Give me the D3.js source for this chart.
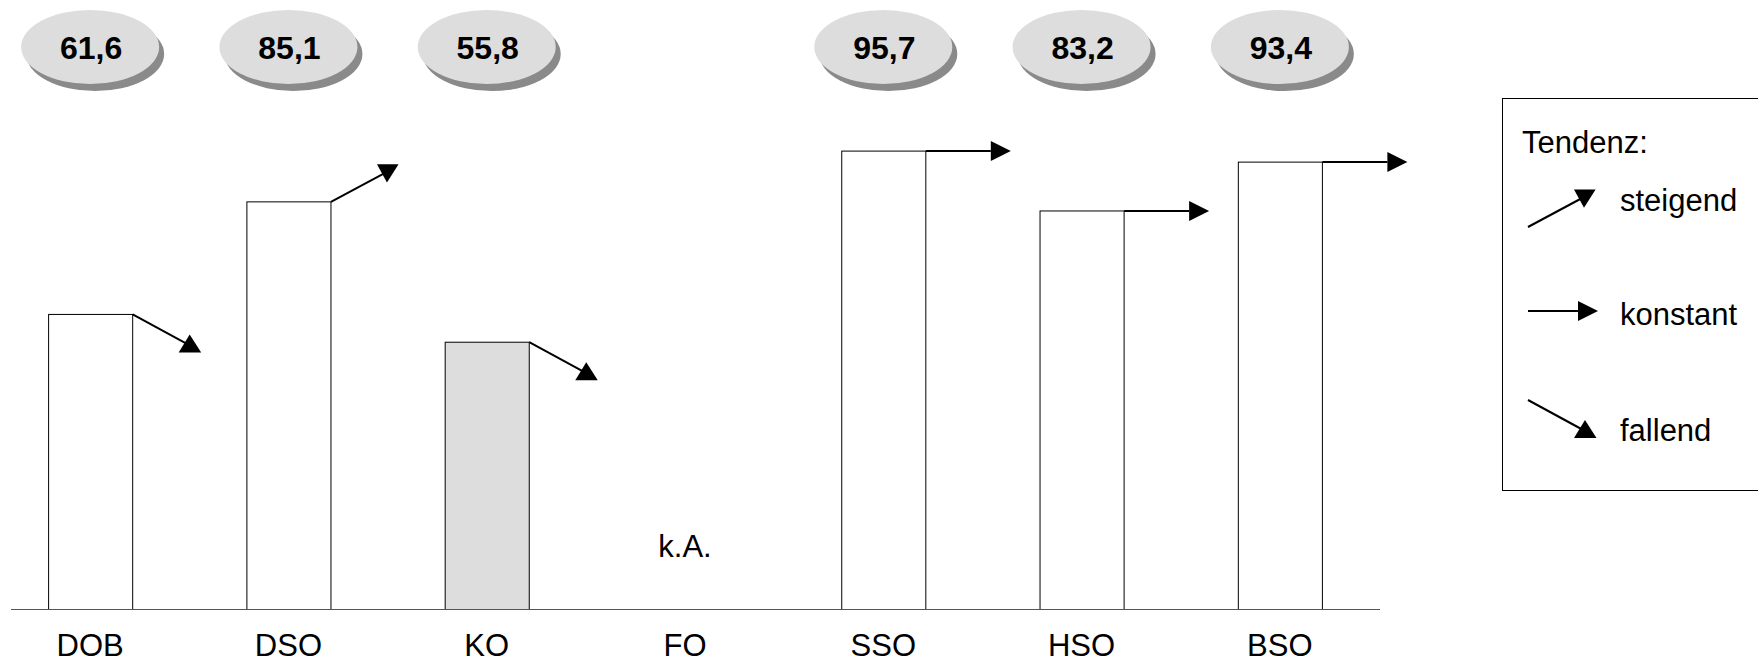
<!DOCTYPE html>
<html>
<head>
<meta charset="utf-8">
<script src="https://cdn.jsdelivr.net/npm/d3@7"></script>
<style>
  html, body { margin: 0; padding: 0; background: #fff; }
  svg { display: block; font-family: Arial, "Liberation Sans", sans-serif; }
</style>
</head>
<body>
<svg id="chart" width="1758" height="664"></svg>
<script>
// Werte je Orchester (FO: keine Angabe)
const categories = ["DOB", "DSO", "KO", "FO", "SSO", "HSO", "BSO"];
const values = [61.6, 85.1, 55.8, null, 95.7, 83.2, 93.4];
const trends = ["fallend", "steigend", "fallend", null, "konstant", "konstant", "konstant"];
const highlighted = ["KO"];
const missingText = "k.A.";
const legendTitle = "Tendenz:";
const legendItems = ["steigend", "konstant", "fallend"];

const de = d3.formatLocale({ decimal: ",", thousands: ".", grouping: [3], currency: ["", " €"] });
const fmt = de.format(".1f");

const svg = d3.select("#chart");

const x = d3.scaleBand()
  .domain(categories)
  .range([-9, 1379])
  .paddingInner(0.576)
  .paddingOuter(0.288);

const baseY = 609;
const y = d3.scaleLinear().domain([0, 100]).range([baseY, 130]);

// Pfeilformen: Linie ab Startpunkt, Spitze als Dreieck
function drawArrow(g, type, sx, sy, flatLen) {
  let line, tri;
  if (type === "steigend") {
    line = [[sx, sy], [sx + 56, sy - 30]];
    tri = [[sx + 46, sy - 37.6], [sx + 67.6, sy - 37.6], [sx + 56, sy - 19.3]];
  } else if (type === "fallend") {
    line = [[sx, sy], [sx + 57, sy + 31]];
    tri = [[sx + 46, sy + 38], [sx + 68.5, sy + 38], [sx + 57, sy + 20]];
  } else {
    line = [[sx, sy], [sx + flatLen, sy]];
    tri = [[sx + flatLen, sy - 10], [sx + flatLen, sy + 10], [sx + flatLen + 20, sy]];
  }
  g.append("path").attr("d", d3.line()(line))
    .attr("stroke", "#000").attr("stroke-width", 2).attr("fill", "none");
  g.append("path").attr("d", d3.line()(tri) + "Z").attr("fill", "#000");
}

const data = categories.map((c, i) => ({ c, v: values[i], t: trends[i] }));

// Balken
svg.append("g").selectAll("rect")
  .data(data.filter(d => d.v != null))
  .join("rect")
  .attr("x", d => x(d.c) + 0.5)
  .attr("y", d => y(d.v) + 0.5)
  .attr("width", x.bandwidth())
  .attr("height", d => baseY - y(d.v))
  .attr("fill", d => highlighted.includes(d.c) ? "#dddddd" : "#ffffff")
  .attr("stroke", "#000")
  .attr("stroke-width", 1);

// Grundlinie
svg.append("line")
  .attr("x1", 11).attr("x2", 1380)
  .attr("y1", baseY + 0.5).attr("y2", baseY + 0.5)
  .attr("stroke", "#555").attr("stroke-width", 1);

// Tendenzpfeile
const arrows = svg.append("g");
data.filter(d => d.v != null && d.t).forEach(d => {
  drawArrow(arrows, d.t, x(d.c) + x.bandwidth() + 0.5, y(d.v) + 0.5, 65);
});

// Keine Angabe
data.filter(d => d.v == null).forEach(d => {
  svg.append("text")
    .attr("x", x(d.c) + x.bandwidth() / 2)
    .attr("y", 557)
    .attr("text-anchor", "middle")
    .attr("font-size", 31)
    .text(missingText);
});

// Kategoriebeschriftung
svg.append("g").selectAll("text")
  .data(categories)
  .join("text")
  .attr("x", d => x(d) + x.bandwidth() / 2)
  .attr("y", 656)
  .attr("text-anchor", "middle")
  .attr("font-size", 31)
  .text(d => d);

// Wertblasen
const bubbles = svg.append("g").selectAll("g")
  .data(data.filter(d => d.v != null))
  .join("g")
  .attr("transform", d => `translate(${x(d.c) + x.bandwidth() / 2},47)`);
bubbles.append("ellipse")
  .attr("cx", 5).attr("cy", 7).attr("rx", 69).attr("ry", 37)
  .attr("fill", "#8a8a8a");
bubbles.append("ellipse")
  .attr("cx", 0).attr("cy", 0).attr("rx", 69).attr("ry", 37)
  .attr("fill", "#dddddd");
bubbles.append("text")
  .attr("x", 1).attr("y", 12)
  .attr("text-anchor", "middle")
  .attr("font-size", 32)
  .attr("font-weight", "bold")
  .text(d => fmt(d.v));

// Legende
const lg = svg.append("g");
lg.append("rect")
  .attr("x", 1502.5).attr("y", 98.5)
  .attr("width", 300).attr("height", 392)
  .attr("fill", "#fff").attr("stroke", "#000").attr("stroke-width", 1);
lg.append("text").attr("x", 1522).attr("y", 153).attr("font-size", 31).text(legendTitle);
const legendY = [227, 311, 400];
const legendTextY = [211, 325, 441];
legendItems.forEach((t, i) => {
  drawArrow(lg, t, 1528, legendY[i], 50);
  lg.append("text").attr("x", 1620).attr("y", legendTextY[i]).attr("font-size", 31).text(t);
});
</script>
</body>
</html>
